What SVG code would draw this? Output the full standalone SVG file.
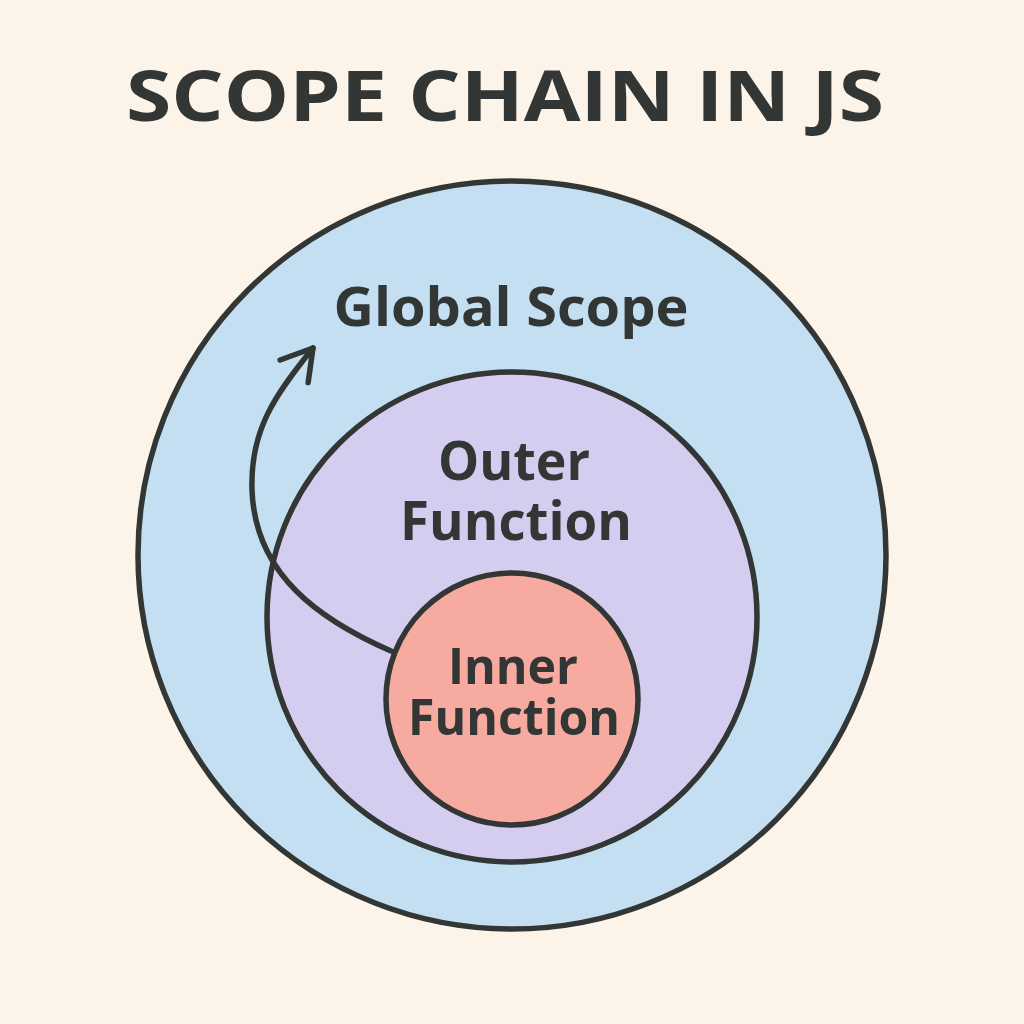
<svg xmlns="http://www.w3.org/2000/svg" width="1024" height="1024" viewBox="0 0 1024 1024">
  <style>
    .ring { stroke: #323634; stroke-width: 5.5; }
    .label { font-family: "Open Sans", "Noto Sans", sans-serif; font-weight: 700; fill: #323634; text-anchor: middle; }
    .title { font-family: "Open Sans", "Noto Sans", sans-serif; font-weight: 700; fill: #323634; text-anchor: middle; }
    .conn { fill: none; stroke: #323634; stroke-width: 5.5; stroke-linecap: round; stroke-linejoin: round; }
  </style>
  <defs>
    <marker id="chev" markerUnits="userSpaceOnUse" viewBox="-40 -25 50 50" refX="0" refY="0" markerWidth="50" markerHeight="50" orient="auto">
      <path d="M -30 -18 L 0 0 L -30 18" fill="none" stroke="#323634" stroke-width="5.5" stroke-linecap="round" stroke-linejoin="round"/>
    </marker>
  </defs>
  <rect width="1024" height="1024" fill="#FDF4E9"/>
  <text class="title" x="505" y="121" font-size="70" textLength="758" lengthAdjust="spacingAndGlyphs">SCOPE CHAIN IN JS</text>
  <g id="global-scope">
    <circle class="ring" cx="512" cy="555" r="374" fill="#C5DFF2"/>
    <text class="label" x="511" y="326" font-size="54" textLength="355" lengthAdjust="spacingAndGlyphs">Global Scope</text>
  </g>
  <g id="outer-function">
    <circle class="ring" cx="512" cy="617" r="245" fill="#D5CDEF"/>
    <text class="label" x="514" y="480" font-size="53" textLength="152" lengthAdjust="spacingAndGlyphs">Outer</text>
    <text class="label" x="516" y="540" font-size="53" textLength="232" lengthAdjust="spacingAndGlyphs">Function</text>
  </g>
  <g id="inner-function">
    <circle class="ring" cx="512" cy="699" r="126" fill="#F7ABA0"/>
    <text class="label" x="513" y="684" font-size="50" textLength="130" lengthAdjust="spacingAndGlyphs">Inner</text>
    <text class="label" x="514" y="735" font-size="50" textLength="212" lengthAdjust="spacingAndGlyphs">Function</text>
  </g>
  <g id="connectors">
    <path class="conn" d="M 391 651 C 320 620, 255 575, 252 490 C 250 430, 275 395, 313 348" marker-end="url(#chev)"/>
  </g>
</svg>
